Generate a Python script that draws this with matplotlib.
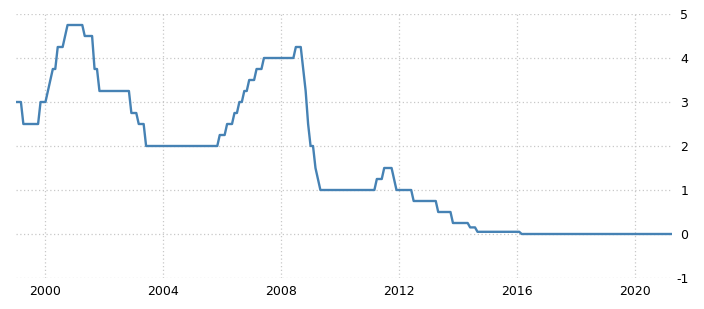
import matplotlib
matplotlib.use('Agg')
import matplotlib.pyplot as plt
import pandas as pd

plt.rcParams['axes.unicode_minus'] = False

# Policy rate decisions (month the new rate took effect, rate in %)
change_months = ['1999-01', '1999-04', '1999-11', '2000-02', '2000-03', '2000-04', '2000-06',
                 '2000-09', '2000-10', '2001-05', '2001-09', '2001-11', '2002-12', '2003-03',
                 '2003-06', '2005-12', '2006-03', '2006-06', '2006-08', '2006-10', '2006-12',
                 '2007-03', '2007-06', '2008-07', '2008-10', '2008-11', '2008-12', '2009-01',
                 '2009-03', '2009-04', '2009-05', '2011-04', '2011-07', '2011-11', '2011-12',
                 '2012-07', '2013-05', '2013-11', '2014-06', '2014-09', '2016-03']
rates = [3.0, 2.5, 3.0, 3.25, 3.5, 3.75, 4.25,
         4.5, 4.75, 4.5, 3.75, 3.25, 2.75, 2.5,
         2.0, 2.25, 2.5, 2.75, 3.0, 3.25, 3.5,
         3.75, 4.0, 4.25, 3.75, 3.25, 2.5, 2.0,
         1.5, 1.25, 1.0, 1.25, 1.5, 1.25, 1.0,
         0.75, 0.5, 0.25, 0.15, 0.05, 0.0]
last_month = '2021-04'

year_ticks = [2000, 2004, 2008, 2012, 2016, 2020]
value_ticks = [-1, 0, 1, 2, 3, 4, 5]

# monthly series (rate stays in force until the next decision)
s = pd.Series(rates, index=pd.PeriodIndex(change_months, freq='M'))
months = pd.period_range(change_months[0], last_month, freq='M')
monthly = s.reindex(months).ffill()
x = monthly.index.year + (monthly.index.month - 1) / 12.0

fig = plt.figure(figsize=(7.04, 3.09), dpi=100)
ax = fig.add_axes([16 / 704, 31 / 309, 656 / 704, 264 / 309])

ax.plot(x, monthly.values, color='#4682b4', linewidth=1.7)

ax.set_xlim(1999.0, x[-1] + 0.02)
ax.set_ylim(-1, 5)
ax.set_xticks(year_ticks)
ax.set_xticklabels([str(y) for y in year_ticks])
ax.set_yticks(value_ticks)

ax.yaxis.tick_right()
ax.tick_params(axis='both', length=0, labelsize=9, colors='#000000')
ax.tick_params(axis='x', pad=5)
ax.tick_params(axis='y', pad=6)
for lbl in ax.get_yticklabels():
    lbl.set_horizontalalignment('right')
    lbl.set_x(1.0 + 8 / 656)

ax.grid(True, color='#c8c8c8', linestyle=(0, (1, 2)), linewidth=0.9)
ax.set_axisbelow(True)
for sp in ax.spines.values():
    sp.set_visible(False)

fig.savefig('out.png', dpi=100)
